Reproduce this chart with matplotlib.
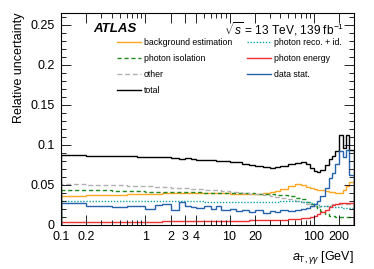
import numpy as np
import matplotlib
matplotlib.use("Agg")
import matplotlib.pyplot as plt
from matplotlib.ticker import FixedLocator, MultipleLocator, NullFormatter, FuncFormatter

# bin edges in a_T,yy [GeV]
edges = [0.1, 0.2, 0.4, 0.6, 0.8, 1.0, 1.3, 1.6, 2.0, 2.5, 3.0, 3.5, 4, 5, 6, 7, 8,
         10, 12, 14, 17, 20, 25, 30, 35, 40, 50, 60, 70, 80, 90, 100, 110, 120, 135,
         150, 165, 180, 200, 225, 240, 265, 300]

bkg_estimation = [0.0355, 0.0368, 0.0375, 0.038, 0.0385, 0.039, 0.0392, 0.0395, 0.0397, 0.0398,
                  0.040, 0.040, 0.040, 0.0398, 0.0396, 0.0395, 0.0394, 0.0392, 0.039, 0.039,
                  0.039, 0.0392, 0.0398, 0.041, 0.0425, 0.045, 0.049, 0.0505, 0.0495, 0.047,
                  0.0455, 0.0445, 0.0438, 0.043, 0.042, 0.041, 0.0405, 0.040, 0.0395, 0.044,
                  0.049, 0.054]
photon_iso = [0.0435, 0.043, 0.0425, 0.042, 0.042, 0.0415, 0.0415, 0.041, 0.041, 0.041,
              0.0408, 0.0405, 0.0405, 0.0403, 0.040, 0.040, 0.040, 0.0398, 0.0397, 0.0396,
              0.0395, 0.039, 0.0385, 0.038, 0.0375, 0.037, 0.0355, 0.034, 0.032, 0.029,
              0.026, 0.023, 0.020, 0.017, 0.0135, 0.0115, 0.0105, 0.010, 0.010, 0.010,
              0.010, 0.010]
other = [0.051, 0.050, 0.0495, 0.049, 0.0485, 0.048, 0.0475, 0.047, 0.0465, 0.046,
         0.0455, 0.045, 0.0445, 0.044, 0.0435, 0.043, 0.0425, 0.0415, 0.041, 0.040,
         0.039, 0.038, 0.037, 0.036, 0.035, 0.034, 0.032, 0.030, 0.028, 0.026,
         0.024, 0.023, 0.0225, 0.023, 0.024, 0.025, 0.0255, 0.026, 0.026, 0.026,
         0.026, 0.026]
total = [0.0875, 0.0858, 0.0866, 0.0862, 0.085, 0.0852, 0.0848, 0.0845, 0.0835, 0.0825,
         0.083, 0.082, 0.0815, 0.081, 0.0805, 0.080, 0.0795, 0.0785, 0.078, 0.0765,
         0.075, 0.074, 0.0725, 0.0715, 0.072, 0.0735, 0.076, 0.0775, 0.078, 0.0755,
         0.071, 0.067, 0.066, 0.069, 0.075, 0.082, 0.086, 0.092, 0.112, 0.096,
         0.112, 0.094]
photon_reco_id = [0.0302, 0.030, 0.030, 0.030, 0.0298, 0.0298, 0.0297, 0.0296, 0.0296, 0.0295,
                  0.0295, 0.0294, 0.0293, 0.0292, 0.0292, 0.0291, 0.029, 0.029, 0.029, 0.029,
                  0.029, 0.029, 0.029, 0.029, 0.029, 0.0293, 0.0295, 0.0295, 0.029, 0.028,
                  0.027, 0.026, 0.025, 0.024, 0.0235, 0.023, 0.0225, 0.022, 0.022, 0.0215,
                  0.021, 0.021]
photon_energy = [0.0037, 0.0038, 0.0039, 0.004, 0.004, 0.0041, 0.0042, 0.0043, 0.0044, 0.0045,
                 0.0046, 0.0046, 0.0047, 0.0048, 0.0049, 0.005, 0.005, 0.0052, 0.0053, 0.0054,
                 0.0055, 0.0057, 0.0059, 0.006, 0.0062, 0.0065, 0.007, 0.0075, 0.008, 0.009,
                 0.010, 0.0115, 0.0135, 0.0155, 0.019, 0.022, 0.025, 0.0265, 0.027, 0.027,
                 0.027, 0.027]
data_stat = [0.027, 0.024, 0.022, 0.0235, 0.0235, 0.020, 0.025, 0.026, 0.019, 0.028,
             0.024, 0.022, 0.021, 0.023, 0.020, 0.024, 0.019, 0.020, 0.017, 0.019,
             0.016, 0.018, 0.015, 0.017, 0.016, 0.018, 0.017, 0.019, 0.020, 0.021,
             0.023, 0.026, 0.030, 0.036, 0.046, 0.058, 0.065, 0.076, 0.092, 0.085,
             0.093, 0.062]

xticks = [0.1, 0.2, 1, 2, 3, 4, 10, 20, 100, 200]
xticklabels = ["0.1", "0.2", "1", "2", "3", "4", "10", "20", "100", "200"]

plt.rcParams["font.family"] = ["Liberation Sans", "DejaVu Sans"]
plt.rcParams["mathtext.fontset"] = "custom"
plt.rcParams["mathtext.rm"] = "Liberation Sans"
plt.rcParams["mathtext.it"] = "Liberation Sans:italic"

fig = plt.figure(figsize=(3.74, 2.69), dpi=100)
ax = fig.add_axes([0.163, 0.164, 0.7835, 0.788])

lw = 1.0
ax.stairs(bkg_estimation, edges, color="#ffa623", lw=lw, label="background estimation")
ax.stairs(photon_iso, edges, color="#1f8a1f", lw=lw, ls=(0, (3, 2)), label="photon isolation")
ax.stairs(other, edges, color="#b0b0b0", lw=lw, ls=(0, (3.5, 2)), label="other")
ax.stairs(total, edges, color="black", lw=lw, label="total")
ax.stairs(photon_reco_id, edges, color="#10a0a8", lw=lw, ls=(0, (1, 1.2)), label="photon reco. + id.")
ax.stairs(photon_energy, edges, color="#f03030", lw=lw, label="photon energy")
ax.stairs(data_stat, edges, color="#2462ad", lw=lw, label="data stat.")

ax.set_xscale("log")
ax.set_xlim(0.1, 300)
ax.set_ylim(0, 0.265)
ax.xaxis.set_major_locator(FixedLocator(xticks))
ax.set_xticklabels(xticklabels)
ax.xaxis.set_minor_formatter(NullFormatter())
ax.yaxis.set_major_locator(MultipleLocator(0.05))
ax.yaxis.set_minor_locator(MultipleLocator(0.01))
ax.yaxis.set_major_formatter(FuncFormatter(lambda v, p: "%g" % round(v, 3)))
ax.tick_params(which="both", direction="in", top=True, right=True, labelsize=9)
ax.tick_params(which="major", length=7, width=0.6)
ax.tick_params(which="minor", length=3.5, width=0.6)
ax.tick_params(axis="x", pad=4.5)
ax.tick_params(axis="y", pad=4.5)
for s in ax.spines.values():
    s.set_linewidth(0.8)

ax.set_ylabel("Relative uncertainty", fontsize=9, loc="top")
ax.set_xlabel(r"$a_{\mathrm{T},\gamma\gamma}$ [GeV]", fontsize=9, loc="right")

ax.text(0.11, 0.925, "ATLAS", transform=ax.transAxes, fontsize=9.5, fontweight="bold",
        fontstyle="italic", va="center")
ax.text(0.967, 0.925, r"$\sqrt{s}$ = 13 TeV, 139 fb$^{-1}$", transform=ax.transAxes,
        fontsize=8.6, ha="right", va="center")

ax.legend(ncol=2, loc="upper left", bbox_to_anchor=(0.17, 0.91), frameon=False,
          fontsize=6.3, handlelength=2.7, columnspacing=1.7, labelspacing=0.8,
          handletextpad=0.4, borderpad=0.2)

fig.savefig("out.png", dpi=100)
